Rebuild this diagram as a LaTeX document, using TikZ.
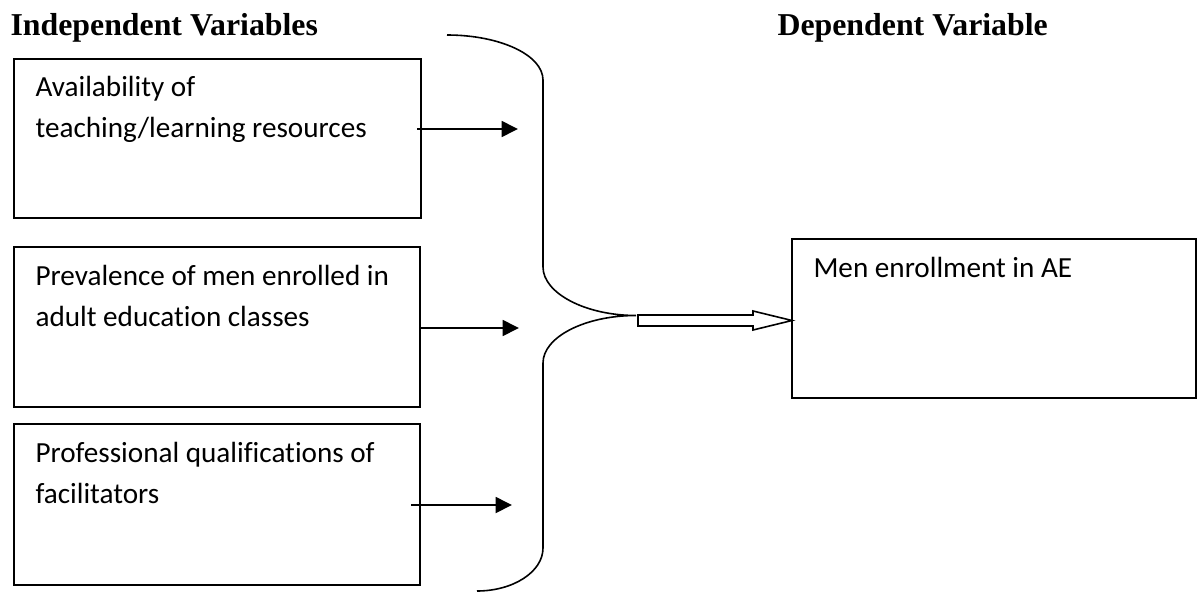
\documentclass[tikz,border=0pt]{standalone}
\usepackage{fontspec}
\setmainfont{Carlito}[Ligatures=NoCommon]
\newfontfamily\hdrfont{Liberation Serif}
\usetikzlibrary{arrows.meta,calc}
\begin{document}
\begin{tikzpicture}[x=0.377pt,y=-0.377pt,
  box/.style={draw,line width=0.6pt,rectangle,inner sep=0pt},
  lbl/.style={anchor=base west,inner sep=0pt,align=left,font=\fontsize{11pt}{15.4pt}\selectfont},
  hdr/.style={anchor=base west,inner sep=0pt,font=\hdrfont\bfseries\fontsize{12pt}{14pt}\selectfont},
  arr/.style={line width=0.8pt,-{Triangle[length=6.2pt,width=6pt]}},
  brace/.style={line width=0.6pt},
  hollow/.style={line width=0.6pt,fill=white,line join=miter}]
\useasboundingbox (0,0) rectangle (1198,592);

% headers
\node[hdr] (h1) at (10,35) {Independent Variables};
\node[hdr] (h2) at (777,36) {Dependent Variable};

% boxes
\node[box,minimum width=153.4pt,minimum height=59.9pt] (b1) at (217.5,138.5) {};
\node[box,minimum width=153.1pt,minimum height=60.3pt] (b2) at (217,327) {};
\node[box,minimum width=153.1pt,minimum height=60.7pt] (b3) at (217,504.5) {};
\node[box,minimum width=152.3pt,minimum height=59.9pt] (b4) at (994,318.5) {};

% box texts (anchor = baseline of the last line)
\node[lbl] (t1) at (35,137) {Availability of\\teaching/learning resources};
\node[lbl] (t2) at (35,326) {Prevalence of men enrolled in\\adult education classes};
\node[lbl] (t3) at (35,503) {Professional qualifications of\\facilitators};
\node[lbl] (t4) at (813,277) {Men enrollment in AE};

% arrow end points
\coordinate (a1s) at (417,129);
\coordinate (a1e) at (518,129);
\coordinate (a2s) at (420,328);
\coordinate (a2e) at (519,328);
\coordinate (a3s) at (411,505);
\coordinate (a3e) at (512,505);

\draw[arr] (a1s) -- (a1e);
\draw[arr] (a2s) -- (a2e);
\draw[arr] (a3s) -- (a3e);

% brace
\coordinate (br1) at (447,35);
\coordinate (br2) at (543,80);
\coordinate (br3) at (543,267);
\coordinate (brtip) at (636,315.5);
\coordinate (br4) at (543,363);
\coordinate (br5) at (543,548);
\coordinate (br6) at (477,591);
\draw[brace] (br1) .. controls (500,35) and (543,55) .. (br2) -- (br3)
  .. controls (543,293) and (585,315.5) .. (brtip)
  .. controls (585,315.5) and (543,337) .. (br4) -- (br5)
  .. controls (543,572) and (513,591) .. (br6);

% hollow arrow
\coordinate (hs) at (638,320.5);
\coordinate (ht) at (792,320.5);
\draw[hollow] ($(hs)+(0,-5.5)$) -- ($(hs)+(115,-5.5)$) -- ($(hs)+(115,-9.5)$)
  -- (ht) -- ($(hs)+(115,9.5)$) -- ($(hs)+(115,5.5)$) -- ($(hs)+(0,5.5)$) -- cycle;
\end{tikzpicture}
\end{document}
